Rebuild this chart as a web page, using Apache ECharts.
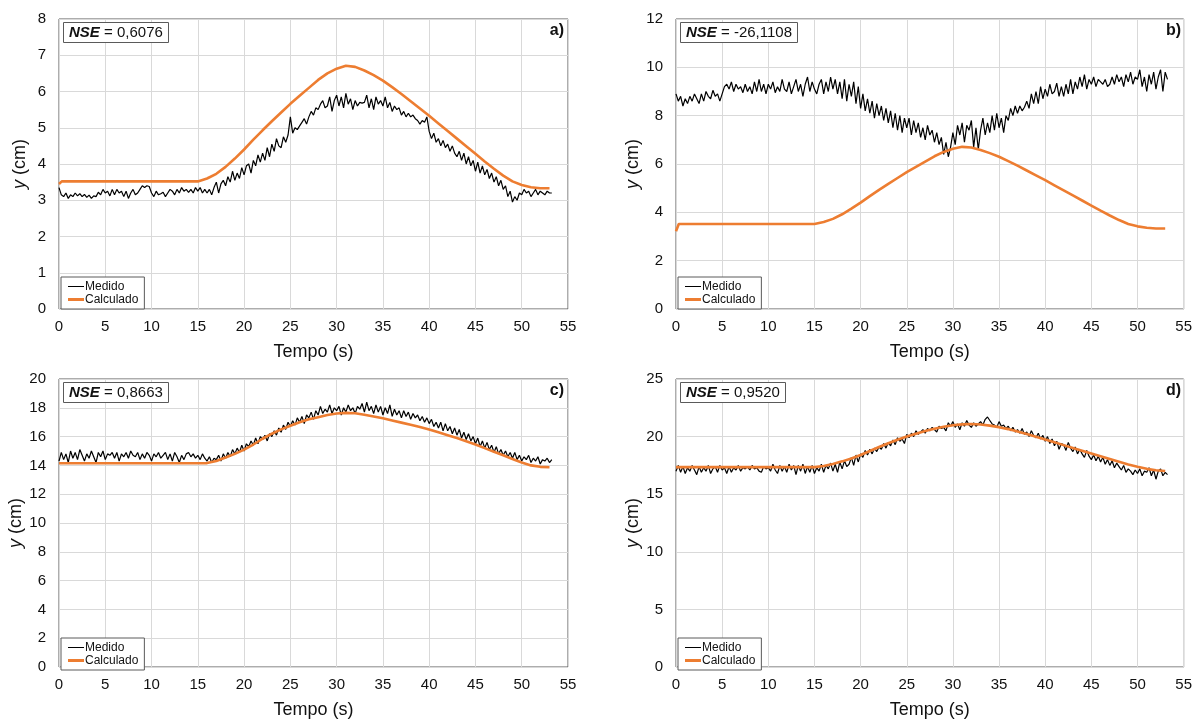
<!DOCTYPE html>
<html><head><meta charset="utf-8">
<script src="https://cdn.jsdelivr.net/npm/echarts@6/dist/echarts.min.js"></script>
<style>html,body{margin:0;padding:0;background:#fff}#c{width:1195px;height:720px}</style>
</head><body><div id="c"></div><script>
// ---- data ----
const PASO = 0.25; // s between measured samples, starting at t = 0
const tCalc = [0,0.3,1,2,3,4,5,6,7,8,9,10,11,12,13,14,15,16,17,18,19,20,21,22,23,24,25,26,27,28,29,30,31,32,33,34,35,36,37,38,39,40,41,42,43,44,45,46,47,48,49,50,51,52,53];
const xTicks = [0,5,10,15,20,25,30,35,40,45,50,55];

const medidoA = [
3.35,3.15,3.1,3.2, 3.05,3.15,3.1,3.2, 3.12,3.18,3.1,3.16, 3.08,3.14,3.05,3.12, 3.1,3.22,3.15,3.3,
3.2,3.25,3.12,3.3, 3.15,3.3,3.2,3.25, 3.1,3.25,3.05,3.2, 3.3,3.15,3.2,3.3, 3.4,3.35,3.4,3.38,
3.2,3.1,3.25,3.15, 3.18,3.22,3.1,3.2, 3.3,3.25,3.15,3.3, 3.2,3.35,3.25,3.3, 3.22,3.3,3.2,3.35,
3.25,3.35,3.2,3.3, 3.2,3.3,3.15,3.35, 3.5,3.2,3.45,3.55, 3.4,3.65,3.5,3.8, 3.55,3.75,3.6,3.9,
3.7,3.95,4.0,3.75, 4.1,3.95,4.25,4.05, 4.3,4.1,4.45,4.2, 4.55,4.35,4.7,4.5, 4.45,4.75,4.6,4.8,
5.3,4.85,5.0,4.95, 5.05,5.15,5.25,5.1, 5.3,5.45,5.35,5.55, 5.5,5.65,5.75,5.55, 5.6,5.85,5.45,5.75,
5.9,5.6,5.85,5.55, 5.95,5.65,5.8,5.5, 5.75,5.6,5.7,5.68, 5.7,5.9,5.55,5.8, 5.5,5.85,5.65,5.75,
5.6,5.85,5.55,5.7, 5.45,5.6,5.5,5.55, 5.35,5.45,5.3,5.4, 5.3,5.35,5.25,5.2, 5.1,5.2,5.15,5.3,
4.9,4.7,4.85,4.6, 4.7,4.5,4.65,4.45, 4.55,4.35,4.5,4.3, 4.2,4.35,4.1,4.3, 4.0,4.2,3.95,4.1,
3.8,4.05,3.75,3.95, 3.7,3.85,3.6,3.75, 3.5,3.65,3.4,3.55, 3.3,3.4,3.1,3.25, 2.95,3.1,3.0,3.2,
3.15,3.3,3.2,3.25, 3.1,3.2,3.3,3.15, 3.25,3.2,3.15,3.25, 3.2,3.2];
const calcA = [3.45,3.52,3.52,3.52,3.52,3.52,3.52,3.52,3.52,3.52,3.52,3.52,3.52,3.52,3.52,3.52,3.52,
3.6,3.73,3.92,4.15,4.4,4.67,4.93,5.18,5.42,5.66,5.88,6.1,6.32,6.5,6.63,6.71,6.68,6.58,6.45,6.3,
6.12,5.93,5.73,5.53,5.33,5.12,4.91,4.7,4.49,4.28,4.07,3.87,3.68,3.52,3.42,3.36,3.33,3.33];

const medidoB = [
8.9,8.6,8.8,8.4, 8.7,8.5,8.8,8.6, 8.9,8.7,8.5,8.9, 8.6,9.0,8.8,8.7, 9.05,8.8,8.9,8.6,
8.9,9.2,9.3,9.1, 9.4,9.0,9.3,9.1, 9.2,8.95,9.3,9.0, 9.2,8.9,9.4,9.0, 9.5,9.0,9.3,8.9,
9.3,9.1,9.4,8.95, 9.2,9.0,9.5,9.1, 9.0,9.4,8.9,9.2, 9.5,9.0,9.3,8.8, 9.3,9.6,9.0,9.4,
9.1,8.9,9.3,9.5, 8.9,9.4,9.0,9.6, 9.1,9.5,8.9,9.4, 8.7,9.5,8.6,9.3, 8.8,9.4,8.5,9.2,
8.3,8.9,8.2,8.7, 8.1,8.6,7.9,8.5, 8.0,8.4,7.8,8.3, 7.7,8.2,7.5,8.1, 7.4,8.0,7.3,7.9,
7.5,7.9,7.2,7.8, 7.3,7.7,7.1,7.5, 7.0,7.6,7.2,7.4, 6.9,7.3,6.8,7.1, 6.4,6.9,6.3,6.7,
7.3,6.8,7.6,7.2, 7.7,6.9,7.6,7.4, 7.8,6.7,7.5,6.6, 7.4,7.9,7.2,7.7, 7.3,8.0,7.4,8.1,
7.5,7.9,7.3,8.0, 7.8,8.3,8.0,8.4, 8.1,8.4,8.2,8.35, 8.6,8.3,8.9,8.5, 9.0,8.5,9.2,8.7,
9.1,8.8,9.3,8.9, 9.0,9.35,8.8,9.2, 8.8,9.3,8.9,9.5, 8.9,9.4,9.1,9.6, 9.2,9.7,9.1,9.5,
9.3,9.6,9.2,9.5, 9.4,9.3,9.5,9.2, 9.3,9.6,9.3,9.7, 9.4,9.6,9.2,9.7, 9.4,9.8,9.3,9.6,
9.5,9.9,9.2,9.6, 9.0,9.7,9.3,9.8, 9.1,9.6,9.9,9.0, 9.8,9.5];
const calcB = [3.22,3.52,3.52,3.52,3.52,3.52,3.52,3.52,3.52,3.52,3.52,3.52,3.52,3.52,3.52,3.52,3.52,
3.6,3.73,3.92,4.15,4.4,4.67,4.93,5.18,5.42,5.66,5.88,6.1,6.32,6.5,6.63,6.71,6.68,6.58,6.45,6.3,
6.12,5.93,5.73,5.53,5.33,5.12,4.91,4.7,4.49,4.28,4.07,3.87,3.68,3.52,3.42,3.36,3.33,3.33];

const medidoC = [
14.3,14.9,14.4,14.8, 14.2,15.0,14.5,14.9, 14.4,15.1,14.7,14.3, 14.8,14.5,15.0,14.6, 14.2,14.9,14.6,15.0,
14.4,14.8,14.7,14.9, 14.5,14.9,14.3,14.8, 14.6,14.9,14.5,15.0, 14.7,14.6,14.9,14.4, 14.8,14.5,14.9,14.7,
14.3,14.8,14.6,14.9, 14.5,14.7,14.9,14.4, 14.8,14.3,14.9,14.6, 14.2,14.7,14.4,14.8, 14.9,14.6,14.8,14.5,
14.7,14.4,14.8,14.5, 14.3,14.6,14.2,14.5, 14.4,14.7,14.3,14.8, 14.5,14.9,14.6,15.1, 14.8,15.2,14.9,15.4,
15.0,15.5,15.3,15.7, 15.4,15.9,15.5,16.0, 15.8,16.1,15.7,16.2, 16.0,16.4,16.1,16.6, 16.3,16.8,16.5,17.0,
16.7,17.1,16.8,17.3, 17.0,17.4,16.9,17.5, 17.3,17.7,17.2,17.8, 17.5,18.1,17.6,17.9, 17.7,18.2,17.6,18.0,
17.8,18.1,17.5,18.0, 17.7,18.2,17.8,18.0, 17.6,18.1,17.9,18.3, 17.7,18.4,17.8,18.1, 17.6,18.2,17.7,18.1,
17.5,18.0,17.6,18.2, 17.4,17.9,17.5,17.8, 17.3,17.8,17.4,17.7, 17.2,17.6,17.3,17.5, 17.1,17.4,17.0,17.3,
16.9,17.2,16.7,17.0, 16.6,17.0,16.4,16.9, 16.4,16.7,16.2,16.6, 16.1,16.5,15.9,16.3, 15.8,16.2,15.7,16.0,
15.5,15.9,15.3,15.7, 15.2,15.6,15.1,15.4, 14.9,15.3,14.8,15.1, 14.7,15.0,14.6,14.9, 14.5,14.9,14.4,14.7,
14.3,14.6,14.4,14.7, 14.2,14.5,14.3,14.6, 14.1,14.4,14.3,14.5, 14.2,14.4];
const calcC = [14.15,14.15,14.15,14.15,14.15,14.15,14.15,14.15,14.15,14.15,14.15,14.15,14.15,14.15,14.15,14.15,14.15,14.16,
14.3,14.55,14.8,15.1,15.45,15.85,16.2,16.5,16.75,17.0,17.2,17.35,17.5,17.6,17.65,17.62,17.52,17.4,17.27,
17.12,16.97,16.82,16.67,16.5,16.3,16.1,15.9,15.68,15.45,15.2,14.95,14.7,14.45,14.2,14.0,13.9,13.87];

const medidoD = [
17.0,17.5,16.9,17.4, 16.8,17.3,17.0,17.5, 17.1,16.7,17.4,16.9, 17.3,17.0,17.5,16.8, 17.2,17.4,16.9,17.5,
17.1,17.3,16.8,17.4, 16.9,17.3,17.1,17.5, 17.0,17.3,17.2,17.4, 17.1,17.5,17.2,17.3, 17.0,16.9,17.4,17.2,
17.3,17.0,17.6,17.1, 16.8,17.5,17.0,17.4, 16.9,17.6,17.1,17.5, 16.7,17.5,17.0,17.6, 16.8,17.4,16.9,17.5,
16.8,17.3,17.0,17.6, 16.9,17.5,17.2,17.7, 17.0,17.6,16.9,17.8, 17.2,17.9,17.4,17.6, 18.2,17.5,18.4,17.8,
18.5,18.2,18.8,18.4, 18.9,18.5,19.0,18.7, 19.1,18.9,19.4,19.0, 19.5,19.2,19.7,19.3, 19.9,19.6,19.8,19.4,
20.2,19.9,20.3,20.0, 20.5,20.2,20.4,20.6, 20.3,20.7,20.5,20.8, 20.6,20.4,20.9,20.7, 20.8,20.5,21.2,20.9,
21.3,20.8,21.1,20.6, 21.2,20.9,21.4,21.0, 20.8,21.2,20.9,21.1, 21.3,21.0,21.5,21.7, 21.4,21.1,21.0,20.8,
21.3,20.9,21.0,20.7, 20.9,20.5,20.8,20.4, 20.6,20.3,20.7,20.2, 20.4,20.0,20.5,20.1, 19.9,20.3,19.8,20.1,
19.6,20.0,19.4,19.8, 19.2,19.6,18.9,19.4, 19.3,18.8,19.5,19.0, 18.7,19.1,18.5,18.9, 18.5,18.2,18.8,18.3,
18.0,18.4,17.9,18.3, 17.8,18.2,17.6,18.0, 17.5,17.9,17.3,17.7, 17.4,17.1,17.5,16.9, 17.2,17.0,16.7,17.1,
16.8,17.2,16.6,17.0, 16.9,17.3,16.6,17.1, 16.3,17.0,17.2,16.6, 16.9,16.7];
const calcD = [17.35,17.35,17.35,17.35,17.35,17.35,17.35,17.35,17.35,17.35,17.35,17.35,17.35,17.35,17.35,17.35,17.35,
17.45,17.62,17.85,18.1,18.4,18.75,19.1,19.42,19.72,20.0,20.25,20.48,20.68,20.85,20.98,21.06,21.1,21.05,20.95,20.82,
20.65,20.45,20.22,19.98,19.74,19.5,19.26,19.02,18.78,18.54,18.3,18.06,17.82,17.58,17.38,17.2,17.08,17.02];

const nseValues = ['0,6076', '-26,1108', '0,8663', '0,9520'];
const panelLetters = ['a)', 'b)', 'c)', 'd)'];
const yMax = [8, 12, 20, 25];
const yStep = [1, 2, 2, 5];
const seriesNames = ['Medido', 'Calculado'];

// ---- layout ----
const FONT = '"Liberation Sans", Arial, sans-serif';
const boxes = [
  {left: 59, top: 19, width: 509, height: 290},
  {left: 676, top: 19, width: 509, height: 290},
  {left: 59, top: 379, width: 509, height: 291},
  {left: 676, top: 379, width: 509, height: 291}
];
const medidos = [medidoA, medidoB, medidoC, medidoD];
const calcs = [calcA, calcB, calcC, calcD];

const grid = [], xAxis = [], yAxis = [], series = [], title = [], legend = [];
boxes.forEach((b, i) => {
  grid.push({left: b.left, top: b.top, width: b.width, height: b.height, show: true,
    borderColor: '#5a5a5a', borderWidth: 1, backgroundColor: 'transparent'});
  xAxis.push({type: 'value', gridIndex: i, min: xTicks[0], max: xTicks[xTicks.length-1], interval: 5,
    axisLine: {show: false}, axisTick: {show: false},
    axisLabel: {fontSize: 15, color: '#111', margin: 10, fontFamily: FONT},
    splitLine: {show: true, lineStyle: {color: '#d9d9d9', width: 1}},
    name: 'Tempo (s)', nameLocation: 'middle', nameGap: 34,
    nameTextStyle: {fontSize: 18, color: '#111', fontFamily: FONT}});
  yAxis.push({type: 'value', gridIndex: i, min: 0, max: yMax[i], interval: yStep[i],
    axisLine: {show: false}, axisTick: {show: false},
    axisLabel: {fontSize: 15, color: '#111', margin: 13, fontFamily: FONT},
    splitLine: {show: true, lineStyle: {color: '#d9d9d9', width: 1}},
    name: '{i|y} (cm)', nameLocation: 'middle', nameGap: 30, nameRotate: 90,
    nameTextStyle: {fontSize: 18, color: '#111', fontFamily: FONT,
      rich: {i: {fontSize: 18, fontStyle: 'italic', color: '#111', fontFamily: FONT}}}});
  series.push({name: seriesNames[0], type: 'line', xAxisIndex: i, yAxisIndex: i,
    data: medidos[i].map((v, k) => [k * PASO, v]), showSymbol: false, symbol: 'none',
    color: '#000', lineStyle: {color: '#000', width: 1.2}, z: 3});
  series.push({name: seriesNames[1], type: 'line', xAxisIndex: i, yAxisIndex: i,
    data: calcs[i].map((v, k) => [tCalc[k], v]), showSymbol: false, symbol: 'none',
    color: '#ED7D31', lineStyle: {color: '#ED7D31', width: 2.6}, z: 4});
  title.push({left: b.left + 4, top: b.top + 3, text: '{b|NSE} = ' + nseValues[i],
    padding: [3, 6, 3, 6], borderColor: '#5a5a5a', borderWidth: 1, backgroundColor: '#fff',
    textStyle: {fontSize: 15, fontWeight: 'normal', color: '#111', fontFamily: FONT,
      rich: {b: {fontSize: 15, fontWeight: 'bold', fontStyle: 'italic', color: '#111', fontFamily: FONT}}}});
  title.push({right: 1195 - (b.left + b.width) + 4, top: b.top + 4, text: panelLetters[i], padding: 0,
    textStyle: {fontSize: 16, fontWeight: 'bold', color: '#111', fontFamily: FONT}});
  legend.push({left: b.left + 2, top: b.top + b.height - 32, orient: 'vertical',
    padding: [3, 6, 3, 7], itemGap: 0, itemWidth: 16, itemHeight: 10,
    borderColor: '#5a5a5a', borderWidth: 1, backgroundColor: '#fff', selectedMode: false,
    textStyle: {fontSize: 12, color: '#111', fontFamily: FONT, lineHeight: 13, padding: [0, 0, 0, -4]},
    data: [
      {name: seriesNames[0], icon: 'path://M0,0H0.01V0.01H0Z M0,4.4H16V5.6H0Z M15.99,9.99H16V10H15.99Z'},
      {name: seriesNames[1], icon: 'path://M0,0H0.01V0.01H0Z M0,3.6H16V6.4H0Z M15.99,9.99H16V10H15.99Z'}
    ]});
});

const chart = echarts.init(document.getElementById('c'), null, {renderer: 'canvas'});
chart.setOption({
  animation: false,
  backgroundColor: '#fff',
  textStyle: {fontFamily: FONT},
  grid, xAxis, yAxis, series, title, legend
});
</script></body></html>
